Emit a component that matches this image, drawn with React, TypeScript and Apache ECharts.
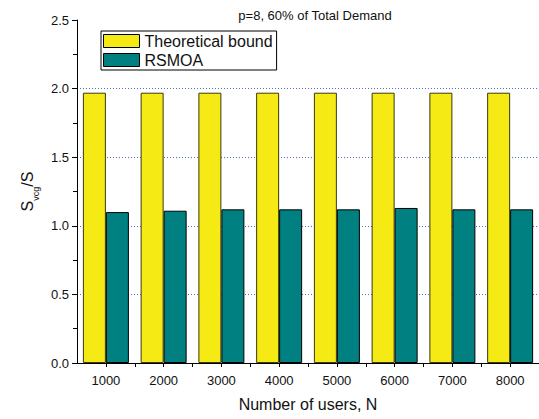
import React, { useEffect, useRef } from "react";
import * as echarts from "echarts";

const categories = ["1000", "2000", "3000", "4000", "5000", "6000", "7000", "8000"];
const theoreticalBound = [1.97, 1.97, 1.97, 1.97, 1.97, 1.97, 1.97, 1.97];
const rsmoa = [1.1, 1.11, 1.12, 1.12, 1.12, 1.13, 1.12, 1.12];
const xTickMin = 500;
const xTickMax = 8500;
const xTickStep = 500;
const yMin = 0;
const yMax = 2.5;
const yStep = 0.5;

const FONT = "'Liberation Sans', Arial, Helvetica, sans-serif";

export default function App() {
  const ref = useRef<HTMLDivElement>(null);
  useEffect(() => {
    if (!ref.current) return;
    const chart = echarts.init(ref.current, undefined, { renderer: "svg" });
    chart.setOption({
      animation: false,
      backgroundColor: "#ffffff",
      textStyle: { fontFamily: FONT },
      title: {
        text: "p=8, 60% of Total Demand",
        left: 310,
        textAlign: "center",
        top: 4,
        textStyle: { fontFamily: FONT, fontSize: 13, fontWeight: "normal", color: "#111" },
      },
      legend: {
        orient: "vertical",
        left: 101,
        top: 31,
        padding: [2, 4, 2, 2],
        itemGap: 3,
        itemWidth: 36,
        itemHeight: 13,
        borderColor: "#000",
        borderWidth: 1,
        backgroundColor: "#fff",
        icon: "rect",
        itemStyle: { borderColor: "#000", borderWidth: 1 },
        textStyle: { fontFamily: FONT, fontSize: 16, color: "#111", lineHeight: 16 },
        data: ["Theoretical bound", "RSMOA"],
      },
      grid: { left: 77, right: 0, top: 20, bottom: 56 },
      xAxis: [
        {
          type: "category",
          data: categories,
          show: false,
        },
        {
          type: "value",
          position: "bottom",
          min: xTickMin,
          max: xTickMax,
          interval: xTickStep,
          name: "Number of users, N",
          nameLocation: "middle",
          nameGap: 33,
          nameTextStyle: { fontFamily: FONT, fontSize: 16, color: "#111" },
          axisLine: { show: true, lineStyle: { color: "#000", width: 1 } },
          axisTick: { show: true, length: 4, lineStyle: { color: "#000" } },
          axisLabel: {
            fontFamily: FONT,
            fontSize: 13,
            color: "#111",
            margin: 11,
            showMinLabel: false,
            showMaxLabel: false,
            formatter: (v: number) => (v % 1000 === 0 ? String(v) : ""),
          },
          splitLine: { show: false },
        },
      ],
      yAxis: {
        type: "value",
        min: yMin,
        max: yMax,
        interval: yStep,
        name: "{s|S}{sub|vcg}{s|/S}",
        nameLocation: "middle",
        nameRotate: 90,
        nameGap: 34,
        nameTextStyle: {
          rich: {
            s: { fontFamily: FONT, fontSize: 16, color: "#111", verticalAlign: "bottom", padding: [0, 0, 5, 0] },
            sub: { fontFamily: FONT, fontSize: 9, color: "#111", verticalAlign: "bottom" },
          },
        },
        axisLine: { show: true, lineStyle: { color: "#000", width: 1 } },
        axisTick: { show: true, length: 5, lineStyle: { color: "#000" } },
        minorTick: { show: true, splitNumber: 2, length: 4, lineStyle: { color: "#000" } },
        axisLabel: {
          fontFamily: FONT,
          fontSize: 13,
          color: "#111",
          margin: 8,
          formatter: (v: number) => v.toFixed(1),
        },
        splitLine: {
          show: true,
          showMinLine: false,
          showMaxLine: false,
          lineStyle: { color: "#4f6fd0", width: 1, type: [1, 2] },
        },
      },
      series: [
        {
          name: "Theoretical bound",
          type: "bar",
          xAxisIndex: 0,
          data: theoreticalBound,
          barWidth: 23,
          barGap: "0%",
          itemStyle: { color: "#F5EA14", borderColor: "#3a3a10", borderWidth: 1 },
        },
        {
          name: "RSMOA",
          type: "bar",
          xAxisIndex: 0,
          data: rsmoa,
          barWidth: 23,
          barGap: "0%",
          itemStyle: { color: "#008080", borderColor: "#000", borderWidth: 1 },
        },
      ],
    });
    return () => chart.dispose();
  }, []);
  return (
    <div
      ref={ref}
      style={{ position: "fixed", left: 0, top: 0, width: 539, height: 419, background: "#fff" }}
    />
  );
}
